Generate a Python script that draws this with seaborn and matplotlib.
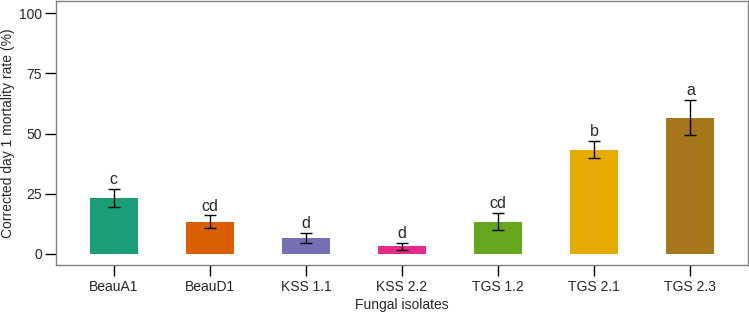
import matplotlib
matplotlib.use("Agg")
import pandas as pd
import seaborn as sns
import matplotlib.pyplot as plt

isolates = ["BeauA1", "BeauD1", "KSS 1.1", "KSS 2.2", "TGS 1.2", "TGS 2.1", "TGS 2.3"]
mortality = [23.3, 13.4, 6.6, 3.2, 13.4, 43.3, 56.7]
sem = [3.6, 2.6, 2.2, 1.5, 3.5, 3.5, 7.1]
letters = ["c", "cd", "d", "d", "cd", "b", "a"]

sns.set_style("white")
plt.rcParams["font.family"] = ["Liberation Sans", "DejaVu Sans"]

df = pd.DataFrame({"isolate": isolates, "mortality": mortality, "sem": sem})

fig = plt.figure(figsize=(7.49, 3.12), dpi=100)
ax = fig.add_axes([56 / 749, 47.3 / 312, 692 / 749, 263.7 / 312])

sns.barplot(data=df, x="isolate", y="mortality", hue="isolate", palette="Dark2",
            width=0.5, errorbar=None, legend=False, ax=ax, saturation=1, edgecolor="none")
ax.errorbar(range(len(isolates)), mortality, yerr=sem, fmt="none", ecolor="black",
            elinewidth=1, capsize=4, capthick=1)
for i, (v, s, lab) in enumerate(zip(mortality, sem, letters)):
    ax.text(i, v + s + 0.8, lab, ha="center", va="bottom", fontsize=11.5)

ax.set_xlim(-0.6, 6.6)
ax.set_ylim(-4.45, 105.1)
ax.set_yticks([0, 25, 50, 75, 100])
for sp in ax.spines.values():
    sp.set_visible(True)
    sp.set_color("#808080")
    sp.set_linewidth(1)
ax.tick_params(axis="both", direction="out", length=8, width=1, color="black",
               labelsize=10, left=True, bottom=True)
ax.tick_params(axis="y", pad=2)
ax.tick_params(axis="x", pad=3)
ax.set_xlabel("Fungal isolates", fontsize=10, labelpad=3)
ax.set_ylabel("Corrected day 1 mortality rate (%)", fontsize=10, labelpad=3)

fig.savefig("out.png", dpi=100)
